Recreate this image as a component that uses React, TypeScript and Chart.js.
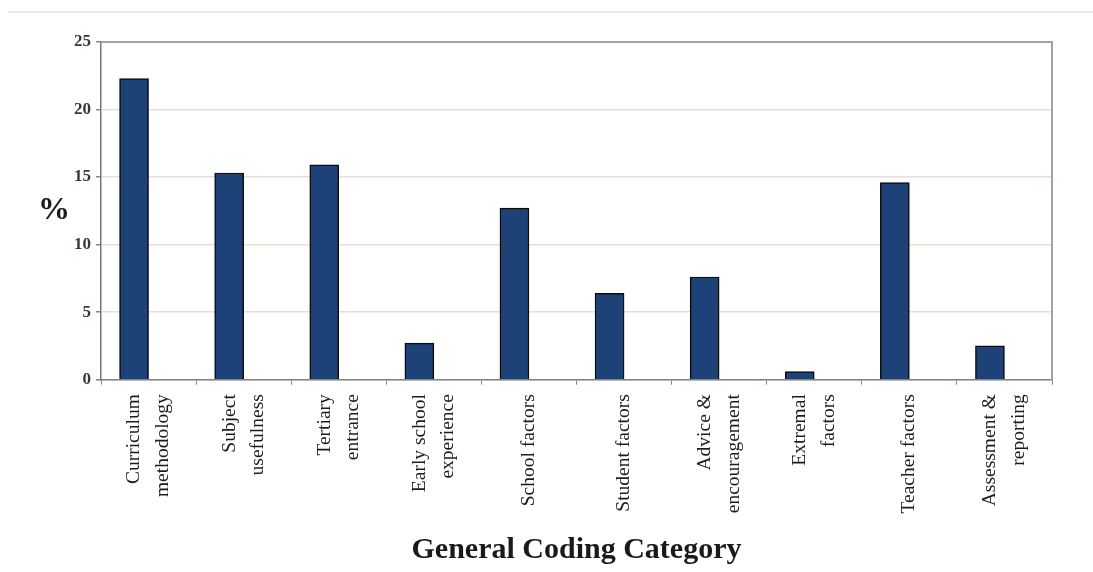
import React, { useEffect, useRef } from "react";
import { Chart, registerables } from "chart.js";

Chart.register(...registerables);

const categories: string[][] = [
  ["Curriculum", "methodology"],
  ["Subject", "usefulness"],
  ["Tertiary", "entrance"],
  ["Early school", "experience"],
  ["School factors"],
  ["Student factors"],
  ["Advice &", "encouragement"],
  ["Extremal", "factors"],
  ["Teacher factors"],
  ["Assessment &", "reporting"],
];

const percentValues: number[] = [22.3, 15.3, 15.9, 2.7, 12.7, 6.4, 7.6, 0.6, 14.6, 2.5];
const spacerValues: (number | null)[] = categories.map(() => null);

const yTickValues: number[] = [0, 5, 10, 15, 20, 25];
const yAxisLabel = "%";
const xAxisLabel = "General Coding Category";

const SERIF = "'Liberation Serif', 'Times New Roman', serif";
const LABEL_SIZE = 19.5;
const LINE_PX = 28.5;

// single-line labels get an empty leading line so that, after the shared
// label offset, every label block is centred on its category
const tickLabels: string[][] = categories.map((c) => (c.length === 1 ? ["", c[0]] : c));

const framePlugin = {
  id: "frameAndPercent",
  afterDraw(chart: any) {
    const { ctx, chartArea } = chart;
    ctx.save();
    ctx.strokeStyle = "#a3a3a3";
    ctx.lineWidth = 2;
    ctx.beginPath();
    ctx.moveTo(chartArea.left, chartArea.top);
    ctx.lineTo(chartArea.right, chartArea.top);
    ctx.lineTo(chartArea.right, chartArea.bottom);
    ctx.stroke();
    ctx.fillStyle = "#1a1a1a";
    ctx.font = `bold 32px ${SERIF}`;
    ctx.textAlign = "center";
    ctx.textBaseline = "middle";
    ctx.fillText(yAxisLabel, chartArea.left - 47, (chartArea.top + chartArea.bottom) / 2);
    ctx.restore();
  },
};

export default function App() {
  const canvasRef = useRef<HTMLCanvasElement | null>(null);

  useEffect(() => {
    if (!canvasRef.current) return;
    const chart = new Chart(canvasRef.current, {
      type: "bar",
      data: {
        labels: tickLabels,
        datasets: [
          {
            label: "%",
            data: percentValues,
            backgroundColor: "#1d4277",
            borderColor: "#0d0d0d",
            borderWidth: 1.5,
            barThickness: 29,
          },
          {
            label: "spacer",
            data: spacerValues,
            backgroundColor: "rgba(0,0,0,0)",
            barThickness: 29,
          },
        ],
      },
      options: {
        animation: false,
        responsive: true,
        maintainAspectRatio: false,
        layout: { padding: { left: 69, right: 41, top: 42, bottom: 4 } },
        plugins: {
          legend: { display: false },
          tooltip: { enabled: false },
        },
        scales: {
          x: {
            offset: true,
            grid: {
              offset: true,
              drawOnChartArea: false,
              drawTicks: true,
              tickLength: 5,
              tickColor: "#8a817a",
            },
            border: { display: true, color: "#8a817a", width: 1.5 },
            ticks: {
              minRotation: 90,
              maxRotation: 90,
              autoSkip: false,
              padding: 9.5,
              labelOffset: -LINE_PX / 2,
              color: "#1c1c1c",
              font: (ctx: any) => {
                const single = categories[ctx.index] && categories[ctx.index].length === 1;
                return {
                  family: SERIF,
                  size: LABEL_SIZE,
                  lineHeight: (single ? LINE_PX / 2 : LINE_PX) + "px",
                };
              },
            },
            title: {
              display: true,
              text: xAxisLabel,
              color: "#1a1a1a",
              font: { family: SERIF, size: 30, weight: "bold" },
              padding: { top: 9, bottom: 0 },
            },
          },
          y: {
            min: 0,
            max: 25,
            afterBuildTicks: (axis: any) => {
              axis.ticks = yTickValues.map((v) => ({ value: v }));
            },
            grid: {
              color: "#e6ded7",
              lineWidth: 1.5,
              drawTicks: true,
              tickLength: 5,
              tickColor: "#8a817a",
            },
            border: { display: true, color: "#7a7572", width: 1.5 },
            ticks: {
              padding: 5,
              color: "#41352f",
              font: { family: SERIF, size: 17, weight: "bold" },
            },
          },
        },
      },
      plugins: [framePlugin],
    });
    return () => chart.destroy();
  }, []);

  return (
    <div style={{ position: "absolute", left: 0, top: 0, width: 1093, height: 572, background: "#ffffff" }}>
      <div
        style={{
          position: "absolute",
          left: 8,
          right: 0,
          top: 11,
          height: 0,
          borderTop: "2px solid #ebe7e3",
        }}
      />
      <canvas ref={canvasRef} />
    </div>
  );
}
